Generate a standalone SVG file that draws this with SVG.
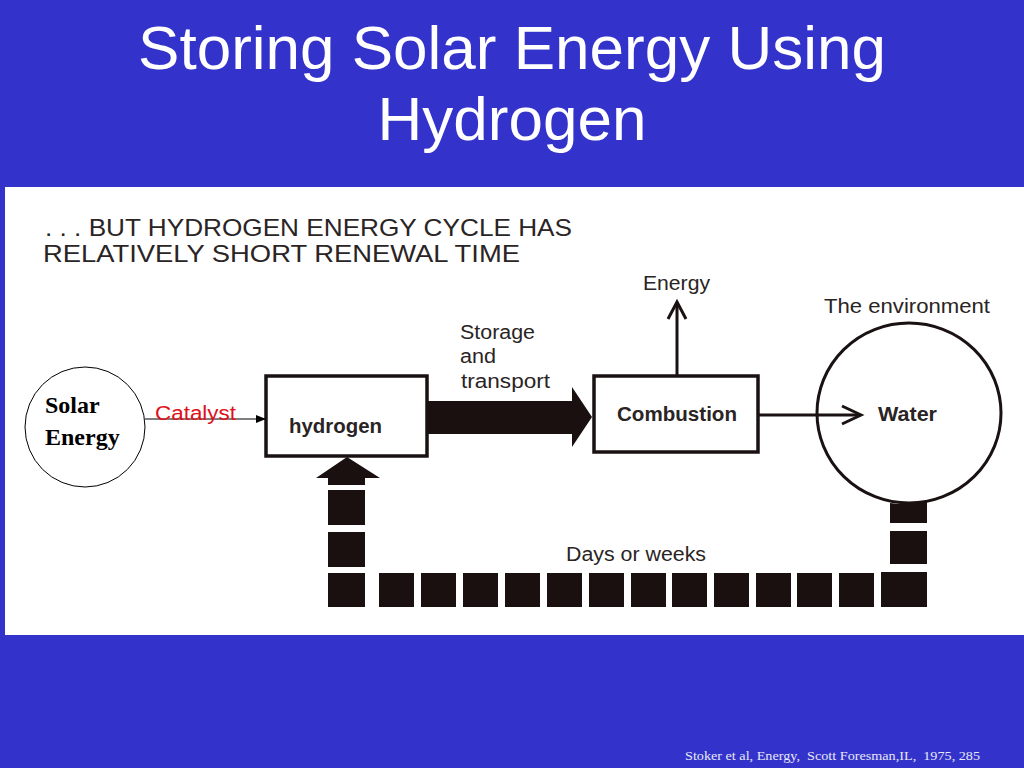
<svg xmlns="http://www.w3.org/2000/svg" width="1024" height="768" viewBox="0 0 1024 768">
<style>
.title{font-family:"Liberation Sans",Arial,sans-serif;font-size:62px;fill:#ffffff;text-anchor:middle}
.head{font-family:"Liberation Sans",Arial,sans-serif;font-size:24px;fill:#2a2424}
.lbl{font-family:"Liberation Sans",Arial,sans-serif;font-size:20px;fill:#2a2424}
.bold{font-family:"Liberation Sans",Arial,sans-serif;font-size:20px;font-weight:bold;fill:#2a2424}
.box{fill:#ffffff;stroke:#1a1212;stroke-width:3.5}
.thin{fill:none;stroke:#1a1212;stroke-width:3}
.blk{fill:#1a1010}
.serif{font-family:"Liberation Serif","Times New Roman",serif;font-size:24px;font-weight:bold;fill:#000}
</style>
<defs>
<marker id="tri" markerWidth="10" markerHeight="8" refX="9" refY="4" orient="auto" markerUnits="userSpaceOnUse">
<path d="M0,0 L10,4 L0,8 Z" fill="#000"/>
</marker>
</defs>
<rect x="0" y="0" width="1024" height="768" fill="#3333cc"/>
<rect x="5" y="187" width="1019" height="448" fill="#ffffff"/>
<text class="title" x="512" y="69">Storing Solar Energy Using</text>
<text class="title" x="512" y="140">Hydrogen</text>
<text class="head" x="45" y="236" textLength="527" lengthAdjust="spacingAndGlyphs">. . . BUT HYDROGEN ENERGY CYCLE HAS</text>
<text class="head" x="43" y="262" textLength="477" lengthAdjust="spacingAndGlyphs">RELATIVELY SHORT RENEWAL TIME</text>

<g id="solar">
<circle cx="85" cy="427" r="60" fill="#fff" stroke="#000" stroke-width="1"/>
<text class="serif" x="45" y="413">Solar</text>
<text class="serif" x="45" y="445">Energy</text>
</g>

<g id="hydrogen">
<rect class="box" x="266" y="376" width="161" height="80"/>
<text class="bold" x="289" y="433" textLength="93" lengthAdjust="spacingAndGlyphs">hydrogen</text>
</g>

<g id="combustion">
<rect class="box" x="594" y="376" width="164" height="76"/>
<text class="bold" x="617" y="421" textLength="120" lengthAdjust="spacingAndGlyphs">Combustion</text>
</g>

<g id="water">
<ellipse cx="909" cy="413" rx="92" ry="90" fill="none" stroke="#1a1212" stroke-width="3"/>
<text class="bold" x="878" y="421" textLength="59" lengthAdjust="spacingAndGlyphs">Water</text>
<text class="lbl" x="824" y="313" textLength="166" lengthAdjust="spacingAndGlyphs">The environment</text>
</g>

<g id="energy">
<text class="lbl" x="643" y="290" textLength="67" lengthAdjust="spacingAndGlyphs">Energy</text>
</g>

<g id="storage-label">
<text class="lbl" x="460" y="339" textLength="75" lengthAdjust="spacingAndGlyphs">Storage</text>
<text class="lbl" x="460" y="363" textLength="36" lengthAdjust="spacingAndGlyphs">and</text>
<text class="lbl" x="461" y="388" textLength="89" lengthAdjust="spacingAndGlyphs">transport</text>
</g>

<g id="connectors">
<line x1="145" y1="419" x2="265" y2="419" stroke="#000" stroke-width="1.2" marker-end="url(#tri)"/>
<text x="155" y="420" font-family="Liberation Sans, Arial, sans-serif" font-size="20" fill="#e0101a" textLength="81" lengthAdjust="spacingAndGlyphs">Catalyst</text>
<polygon class="blk" points="428,401 572,401 572,387 592,417 572,447 572,434 428,434"/>
<line class="thin" x1="677" y1="375" x2="677" y2="302"/>
<polyline class="thin" points="668,319 677,302 686,319"/>
<line class="thin" x1="758" y1="415" x2="860" y2="415"/>
<polyline class="thin" points="842,406 861,415 842,424"/>
<polygon class="blk" points="347,457 380,478 365,478 365,485 328,485 328,478 316,478"/>
<g class="blk">
<rect x="328" y="490" width="37" height="35"/>
<rect x="328" y="532" width="37" height="35"/>
<rect x="328" y="573" width="37" height="34"/>
<rect x="379" y="573" width="35" height="34"/>
<rect x="421" y="573" width="35" height="34"/>
<rect x="463" y="573" width="35" height="34"/>
<rect x="505" y="573" width="35" height="34"/>
<rect x="547" y="573" width="35" height="34"/>
<rect x="589" y="573" width="35" height="34"/>
<rect x="631" y="573" width="35" height="34"/>
<rect x="672" y="573" width="35" height="34"/>
<rect x="714" y="573" width="35" height="34"/>
<rect x="756" y="573" width="35" height="34"/>
<rect x="797" y="573" width="35" height="34"/>
<rect x="839" y="573" width="35" height="34"/>
<rect x="881" y="572" width="46" height="35"/>
<rect x="890" y="531" width="37" height="33"/>
<path d="M890,503 Q909,506 927,500 L927,523 L890,523 Z"/>
</g>
<text class="lbl" x="566" y="561" textLength="140" lengthAdjust="spacingAndGlyphs">Days or weeks</text>
</g>

<text x="685" y="760" font-family="Liberation Serif, Times New Roman, serif" font-size="13" fill="#e8e8f4" xml:space="preserve" textLength="295" lengthAdjust="spacingAndGlyphs">Stoker et al, Energy,  Scott Foresman,IL,  1975, 285</text>
</svg>
